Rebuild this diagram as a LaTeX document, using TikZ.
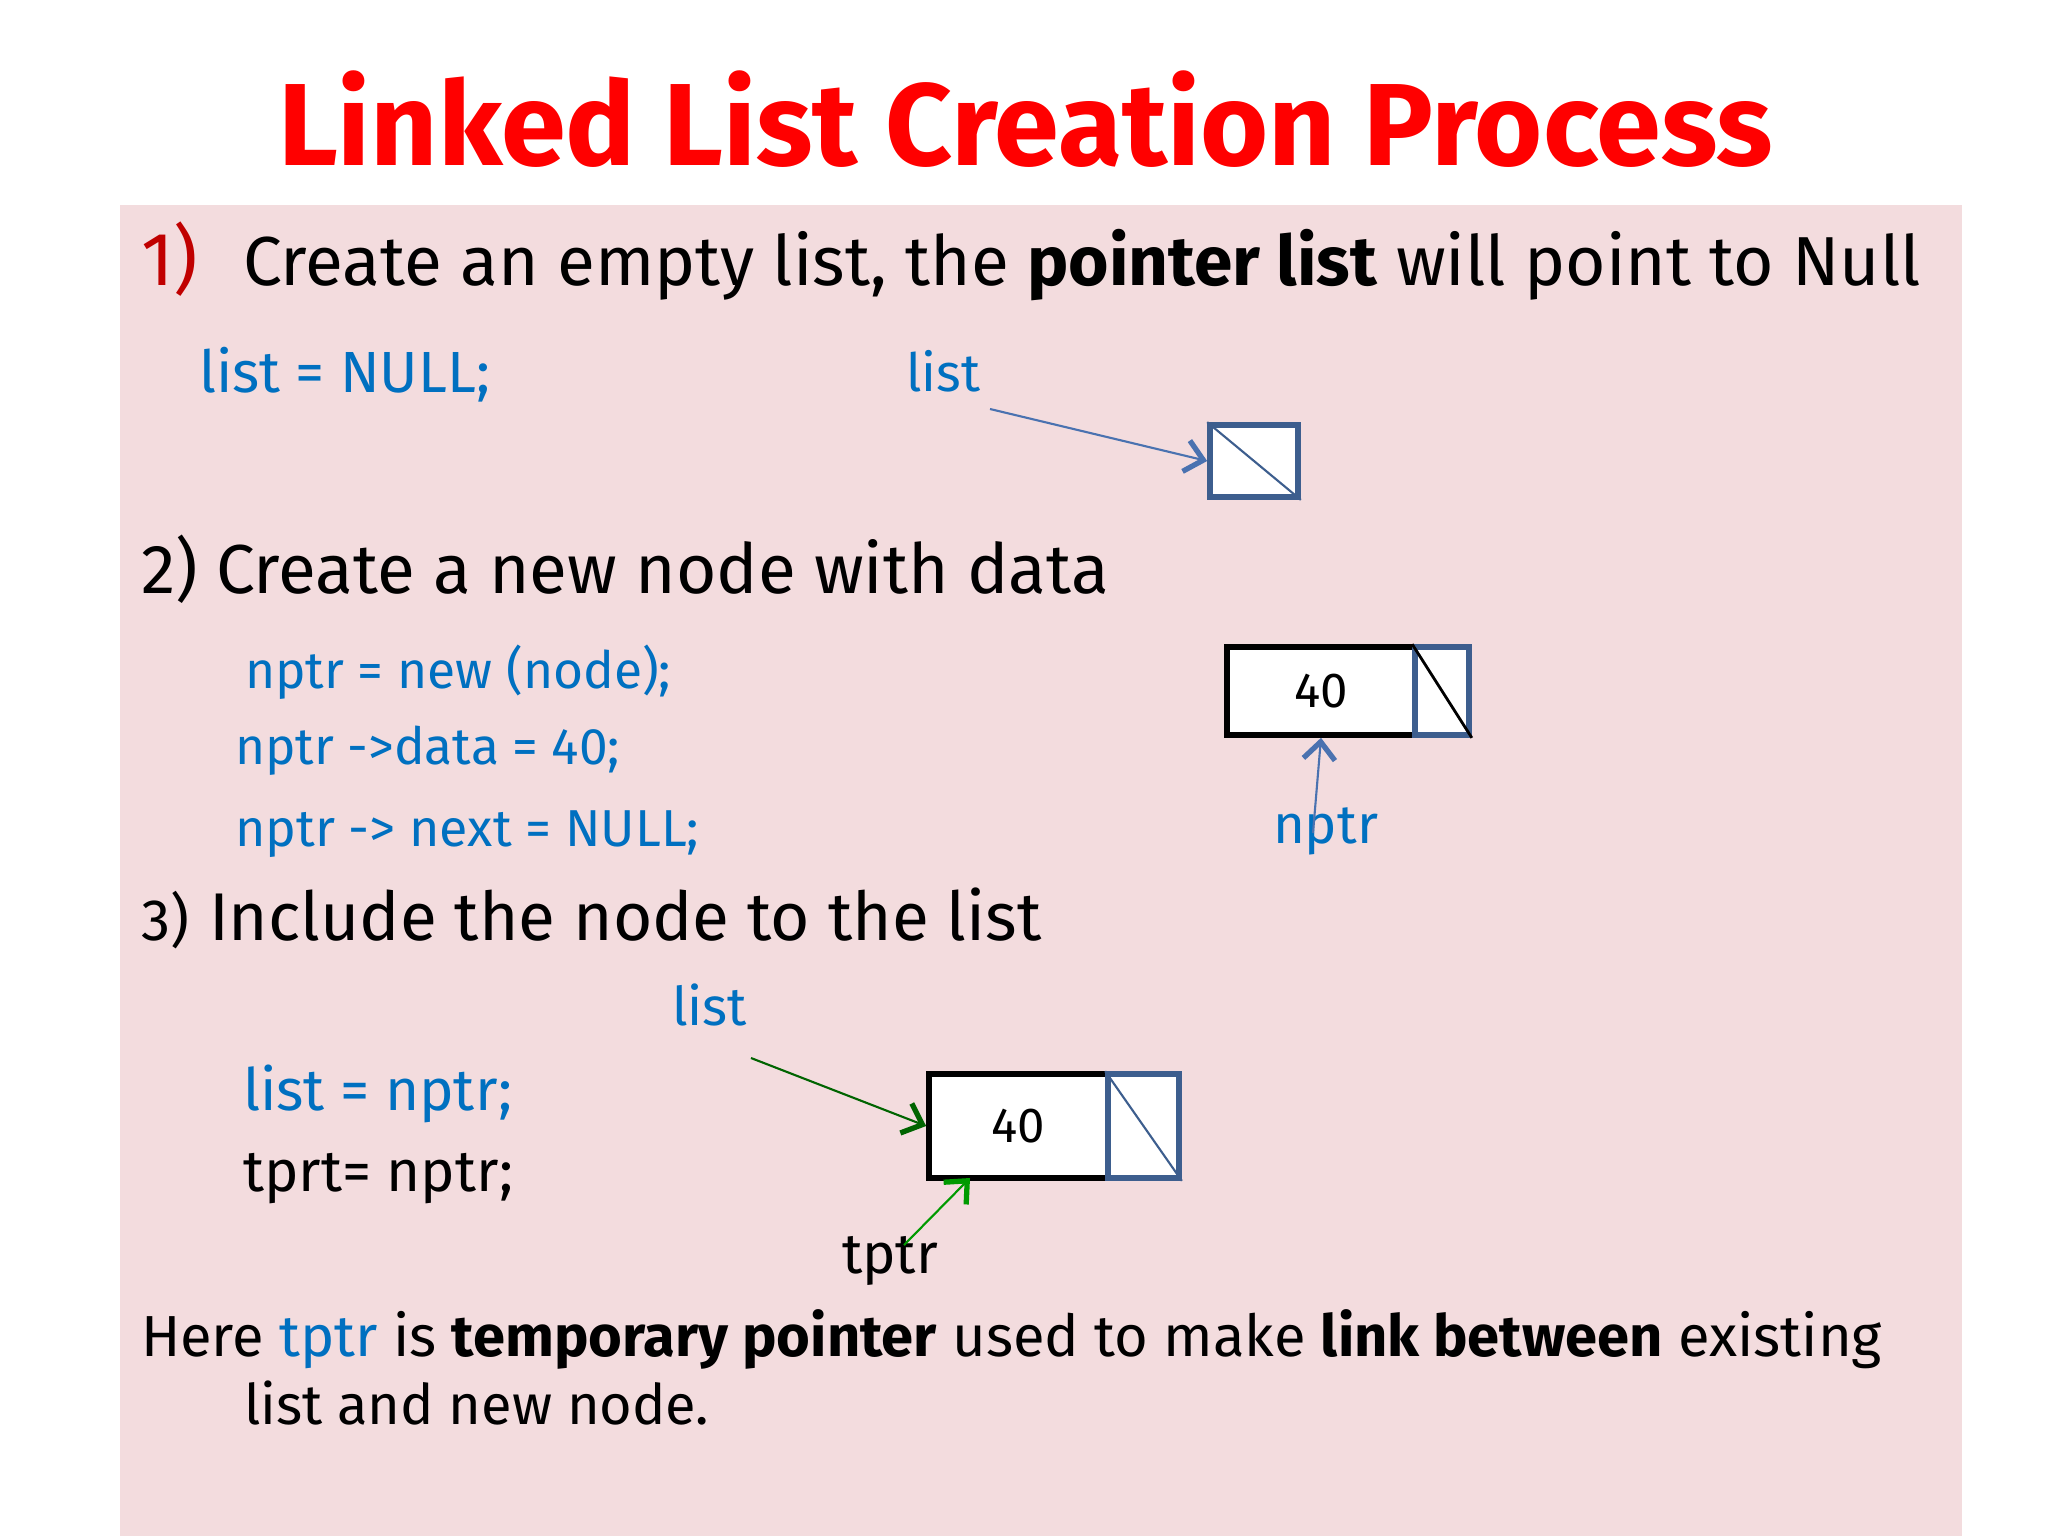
\documentclass[tikz,border=0pt]{standalone}
\usepackage{fontspec}
\setmainfont{Fira Sans}
\usepackage{graphicx}
\usetikzlibrary{arrows.meta}
\definecolor{pinkbg}{HTML}{F3DCDE}
\definecolor{titlered}{HTML}{FF0000}
\definecolor{numred}{HTML}{C00000}
\definecolor{codeblue}{HTML}{0070C0}
\definecolor{arrowblue}{HTML}{4A72B0}
\definecolor{boxblue}{HTML}{3D5E8E}
\definecolor{darkgreen}{HTML}{006400}
\definecolor{litegreen}{HTML}{009A00}
\newcommand\fw[2]{\resizebox{#1cm}{!}{#2}}
\tikzset{
  txt/.style={inner sep=0pt, outer sep=0pt, anchor=base west},
  cellbox/.style={draw=black, fill=white, line width=1.6pt, inner sep=0pt, font=\fontsize{14}{16}\selectfont},
  ptrbox/.style={draw=boxblue, fill=white, line width=1.6pt, inner sep=0pt},
  ptrarrow/.style={line width=0.6pt, -{Straight Barb[length=5pt, width=9pt, line width=1.5pt]}},
}
\begin{document}
\begin{tikzpicture}[x=0.01cm, y=-0.01cm]
\useasboundingbox (0,0) rectangle (2048,1536);
\fill[white] (0,0) rectangle (2048,1536);
\fill[pinkbg] (120,205) rectangle (1962,1536);

% title
\node[txt] (title) at (278,165) {\fw{14.94}{\color{titlered}\bfseries Linked List Creation Process}};

% step 1
\node[txt] (n1) at (141,285) {\fw{0.57}{\color{numred}1)}};
\node[txt] (s1) at (243,285) {\fw{16.77}{Create an empty list, the \textbf{pointer list} will point to Null}};
\node[txt] (c1) at (199,392) {\fw{2.91}{\color{codeblue}list = NULL;}};
\node[txt] (l1) at (906,391) {\fw{0.74}{\color{codeblue}list}};
\node[ptrbox, minimum width=0.88cm, minimum height=0.72cm] (b1) at (1254,461) {};
\draw[boxblue, line width=0.6pt] (b1.north west) -- (b1.south east);
\coordinate (a1) at (990,409);
\draw[ptrarrow, arrowblue] (a1) -- (b1.west);

% step 2
\node[txt] (s2) at (141,593) {\fw{9.67}{2) Create a new node with data}};
\node[txt] (c2a) at (245,688) {\fw{4.26}{\color{codeblue}nptr = new (node);}};
\node[txt] (c2b) at (235,764) {\fw{3.85}{\color{codeblue}nptr ->data = 40;}};
\node[txt] (c2c) at (235,846) {\fw{4.64}{\color{codeblue}nptr -> next = NULL;}};
\node[cellbox, minimum width=1.88cm, minimum height=0.88cm] (d2) at (1321,691) {40};
\node[ptrbox, minimum width=0.54cm, minimum height=0.88cm] (p2) at (1442,691) {};
\draw[black, line width=0.8pt] (p2.north west) -- (p2.south east);
\node[txt] (l2) at (1273,843) {\fw{1.05}{\color{codeblue}nptr}};
\coordinate (a2) at (1313,833);
\draw[ptrarrow, arrowblue] (a2) -- (d2.south);

% step 3
\node[txt] (n3) at (141,940) {\fw{0.48}{3)}};
\node[txt] (s3) at (209,940) {\fw{8.32}{Include the node to the list}};
\node[txt] (l3) at (672,1025) {\fw{0.75}{\color{codeblue}list}};
\node[txt] (c3a) at (243,1110) {\fw{2.69}{\color{codeblue}list = nptr;}};
\node[txt] (c3b) at (243,1191) {\fw{2.70}{tprt= nptr;}};
\node[cellbox, minimum width=1.79cm, minimum height=1.04cm] (d3) at (1018.5,1126) {40};
\node[ptrbox, minimum width=0.71cm, minimum height=1.04cm] (p3) at (1143.5,1126) {};
\draw[boxblue, line width=0.6pt] (p3.north west) -- (p3.south east);
\coordinate (a3) at (751,1058);
\draw[ptrarrow, darkgreen] (a3) -- (d3.west);
\node[txt] (t3) at (842,1273) {\fw{0.96}{tptr}};
\coordinate (a4) at (904,1245);
\coordinate (a4e) at (970,1178);
\draw[ptrarrow, litegreen] (a4) -- (a4e);

% note
\node[txt] (h1) at (141,1356) {\fw{17.40}{Here {\color{codeblue}tptr} is \textbf{temporary pointer} used to make \textbf{link between} existing}};
\node[txt] (h2) at (244,1424) {\fw{4.65}{list and new node.}};
\end{tikzpicture}
\end{document}
